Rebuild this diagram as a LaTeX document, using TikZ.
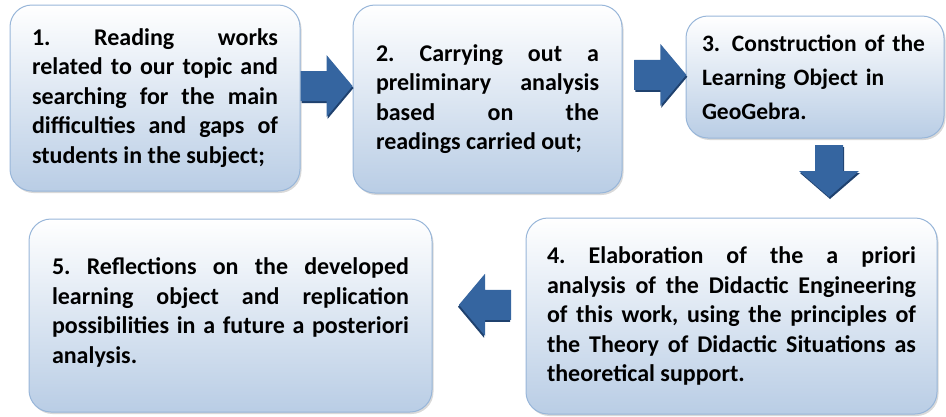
\documentclass[tikz,border=0pt]{standalone}
\usepackage{fontspec}
\setmainfont{Carlito}
\usepackage{xcolor}
\usetikzlibrary{calc,shadows}
\definecolor{stepfill}{HTML}{B9CDE5}
\definecolor{stepline}{HTML}{98B6D9}
\definecolor{arrowlight}{HTML}{5A8DCB}
\definecolor{arrowedge}{HTML}{3565A0}
\definecolor{arrowdark}{HTML}{1F416E}

\tikzset{
  stepbox/.style={draw=stepline, line width=1pt, rounded corners=22pt,
    top color=white, middle color=stepfill!55!white, bottom color=stepfill,
    drop shadow={shadow xshift=1.5pt, shadow yshift=-2pt, opacity=0.3},
    inner sep=0pt, align=justify,
    font=\bfseries\fontsize{24}{29.5}\selectfont\frenchspacing},
  harrow/.pic={
    \fill[arrowdark] (-25,-13) -- (1,-13) -- (1,-29) -- (27,2) -- (1,33) -- (1,17) -- (-25,17) -- cycle;
    \shade[top color=arrowedge, middle color=arrowlight, bottom color=arrowedge]
      (-26,-15) -- (0,-15) -- (0,-31) -- (26,0) -- (0,31) -- (0,15) -- (-26,15) -- cycle;
  },
  varrow/.pic={
    \fill[arrowdark] (-13,-24) -- (15,-24) -- (15,2) -- (31,2) -- (1,28) -- (-29,2) -- (-13,2) -- cycle;
    \shade[left color=arrowedge, middle color=arrowlight, right color=arrowedge]
      (-14,-26) -- (14,-26) -- (14,0) -- (30,0) -- (0,26) -- (-30,0) -- (-14,0) -- cycle;
  }
}

\begin{document}
\begin{tikzpicture}[x=1pt,y=-1pt]
  \useasboundingbox (0,0) rectangle (946,416);

  % the five steps
  \node[stepbox, minimum width=290pt, minimum height=186pt, text width=246pt] (s1) at (155,98)
    {1. Reading works\linebreak related to our topic and\linebreak searching for the main\linebreak difficulties and gaps of\linebreak students in the subject;};
  \node[stepbox, minimum width=269pt, minimum height=188pt, text width=223pt] (s2) at (487.5,99)
    {2. Carrying out a\linebreak preliminary analysis\linebreak based on the\linebreak readings carried out;};
  \node[stepbox, minimum width=258pt, minimum height=122pt, text width=226pt, align=left,
    font=\bfseries\fontsize{23.5}{34}\selectfont] (s3) at (815,77)
    {3. Construction of the\\Learning Object in\\GeoGebra.};
  \node[stepbox, minimum width=411pt, minimum height=196pt, text width=369pt] (s4) at (731.5,316)
    {4. Elaboration of the a priori\linebreak analysis of the Didactic Engineering\linebreak of this work, using the principles of\linebreak the Theory of Didactic Situations as\linebreak theoretical support.};
  \node[stepbox, minimum width=403pt, minimum height=193pt, text width=357pt] (s5) at (230.5,315.5)
    {5. Reflections on the developed\linebreak learning object and replication\linebreak possibilities in a future a posteriori\linebreak analysis.\vspace*{6pt}};

  % block arrows between the steps
  \pic at ($($(s1.east)!0.5!(s2.west)$)+(0,-12.5)$) {harrow};
  \pic at ($($(s2.east)!0.6!(s3.west)$)+(0,-11)$) {harrow};
  \pic at ($($(s3.south)!0.5!(s3.south |- s4.north)$)+(14,-7)$) {varrow};
  \pic[xscale=-1] at ($($(s4.west)!0.5!(s5.east)$)+(6,-11)$) {harrow};
\end{tikzpicture}
\end{document}
